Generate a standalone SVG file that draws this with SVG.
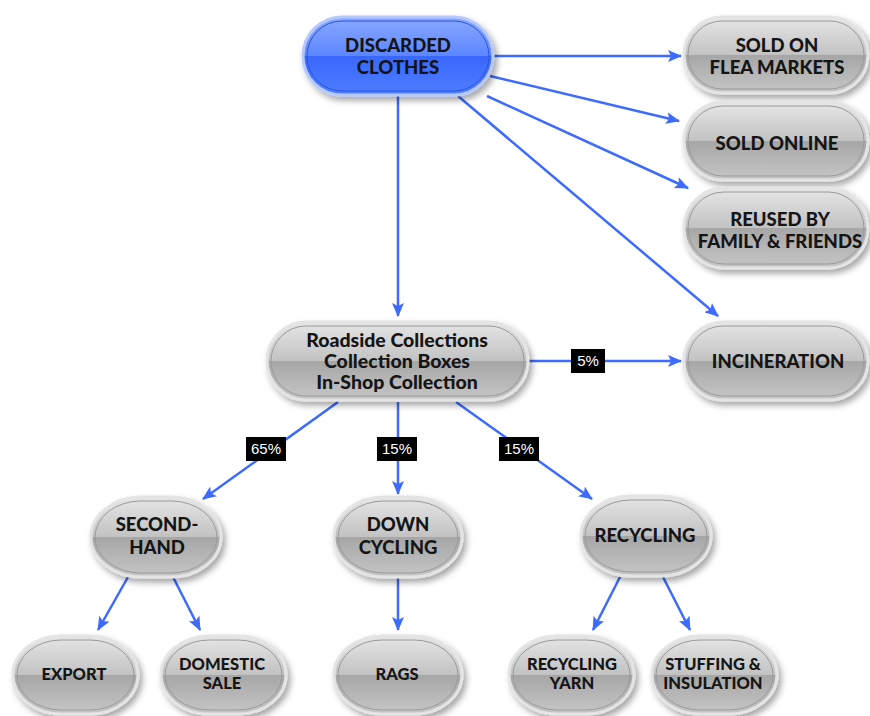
<svg xmlns="http://www.w3.org/2000/svg" width="870" height="716" viewBox="0 0 870 716">
<defs>
<linearGradient id="gGray" x1="0" y1="0" x2="0" y2="1">
<stop offset="0" stop-color="#e6e6e6"/>
<stop offset="0.5" stop-color="#c2c2c2"/>
<stop offset="0.5" stop-color="#a6a6a6"/>
<stop offset="1" stop-color="#c6c6c6"/>
</linearGradient>
<linearGradient id="gBlue" x1="0" y1="0" x2="0" y2="1">
<stop offset="0" stop-color="#88a8ff"/>
<stop offset="0.5" stop-color="#5c86ff"/>
<stop offset="0.5" stop-color="#3868fb"/>
<stop offset="1" stop-color="#4f7dff"/>
</linearGradient>
<filter id="sh" x="-20%" y="-20%" width="150%" height="160%">
<feDropShadow dx="3" dy="4" stdDeviation="3" flood-color="#000" flood-opacity="0.35"/>
</filter>
<marker id="ah" viewBox="0 0 14 12" refX="13" refY="6" markerWidth="14" markerHeight="12" markerUnits="userSpaceOnUse" orient="auto">
<path d="M0,0 L14,6 L0,12 L3,6 Z" fill="#3d6bff"/>
</marker>
</defs>
<style>
.n{fill:url(#gGray);stroke:#e4e4e4;stroke-width:3;filter:url(#sh)}
.ni{fill:none;stroke:#9a9a9a;stroke-width:1}
.b{fill:url(#gBlue);stroke:#b6c9ff;stroke-width:3;filter:url(#sh)}
.bi{fill:none;stroke:#2c55d8;stroke-width:1}
.t{font-family:Lato,"Open Sans","Liberation Sans",sans-serif;font-weight:900;font-size:18.5px;fill:#151515;text-anchor:middle}
.r{font-size:19.5px}
.c path{fill:none;stroke:#3d6bff;stroke-width:2.5;marker-end:url(#ah)}
.lb rect{fill:#000}
.lb text{font-family:"Liberation Sans",Arial,sans-serif;font-size:15px;fill:#fff;text-anchor:middle}
</style>

<g id="connectors" class="c">
<path d="M493,56 L681,56"/>
<path d="M490,76 L679,121"/>
<path d="M487,96 L688,188"/>
<path d="M458,96 L718,316"/>
<path d="M398,96 L398,316"/>
<path d="M528,361 L681,361"/>
<path d="M338,402 L203,499"/>
<path d="M398,402 L398,494"/>
<path d="M456,402 L592,499"/>
<path d="M128,577 L98,630"/>
<path d="M173,577 L200,630"/>
<path d="M398,577 L398,630"/>
<path d="M620,577 L593,630"/>
<path d="M663,577 L690,630"/>
</g>

<g id="labels" class="lb">
<rect x="571" y="349" width="34" height="24"/><text x="588" y="366">5%</text>
<rect x="246" y="437" width="40" height="24"/><text x="266" y="454">65%</text>
<rect x="377" y="437" width="40" height="24"/><text x="397" y="454">15%</text>
<rect x="499" y="437" width="40" height="24"/><text x="519" y="454">15%</text>
</g>

<g id="discarded">
<rect class="b" x="303" y="17" width="190" height="78" rx="39"/>
<rect class="bi" x="307" y="21" width="182" height="70" rx="35"/>
<text class="t" x="398" y="52">DISCARDED</text>
<text class="t" x="398" y="74">CLOTHES</text>
</g>

<g id="flea">
<rect class="n" x="684" y="17" width="184" height="76" rx="38"/>
<rect class="ni" x="688" y="21" width="176" height="68" rx="34"/>
<text class="t" x="777" y="52">SOLD ON</text>
<text class="t" x="777" y="74">FLEA MARKETS</text>
</g>

<g id="online">
<rect class="n" x="684" y="102" width="184" height="78" rx="39"/>
<rect class="ni" x="688" y="106" width="176" height="70" rx="35"/>
<text class="t" x="777" y="150">SOLD ONLINE</text>
</g>

<g id="reused">
<rect class="n" x="684" y="188" width="184" height="80" rx="40"/>
<rect class="ni" x="688" y="192" width="176" height="72" rx="36"/>
<text class="t" x="780" y="226">REUSED BY</text>
<text class="t" x="780" y="248">FAMILY &amp; FRIENDS</text>
</g>

<g id="incineration">
<rect class="n" x="684" y="322" width="184" height="78" rx="39"/>
<rect class="ni" x="688" y="326" width="176" height="70" rx="35"/>
<text class="t" x="778" y="368">INCINERATION</text>
</g>

<g id="roadside">
<rect class="n" x="267" y="322" width="261" height="78" rx="39"/>
<rect class="ni" x="271" y="326" width="253" height="70" rx="35"/>
<text class="t r" x="397" y="347">Roadside Collections</text>
<text class="t r" x="397" y="368">Collection Boxes</text>
<text class="t r" x="397" y="389">In-Shop Collection</text>
</g>

<g id="secondhand">
<rect class="n" x="91" y="497" width="130" height="80" rx="50" ry="40"/>
<rect class="ni" x="95" y="501" width="122" height="72" rx="46" ry="36"/>
<text class="t" x="157" y="531">SECOND-</text>
<text class="t" x="157" y="554">HAND</text>
</g>

<g id="downcycling">
<rect class="n" x="334" y="497" width="128" height="80" rx="50" ry="40"/>
<rect class="ni" x="338" y="501" width="120" height="72" rx="46" ry="36"/>
<text class="t" x="398" y="531">DOWN</text>
<text class="t" x="398" y="554">CYCLING</text>
</g>

<g id="recycling">
<rect class="n" x="581" y="496" width="130" height="80" rx="50" ry="40"/>
<rect class="ni" x="585" y="500" width="122" height="72" rx="46" ry="36"/>
<text class="t" x="645" y="542">RECYCLING</text>
</g>

<g id="export">
<rect class="n" x="13" y="636" width="125" height="78" rx="48" ry="39"/>
<rect class="ni" x="17" y="640" width="117" height="70" rx="44" ry="35"/>
<text class="t" x="74" y="680" style="font-size:16.5px">EXPORT</text>
</g>

<g id="domestic">
<rect class="n" x="161" y="636" width="125" height="78" rx="48" ry="39"/>
<rect class="ni" x="165" y="640" width="117" height="70" rx="44" ry="35"/>
<text class="t" x="222" y="670" style="font-size:16.5px">DOMESTIC</text>
<text class="t" x="222" y="689" style="font-size:16.5px">SALE</text>
</g>

<g id="rags">
<rect class="n" x="334" y="636" width="128" height="78" rx="48" ry="39"/>
<rect class="ni" x="338" y="640" width="120" height="70" rx="44" ry="35"/>
<text class="t" x="397" y="680" style="font-size:16.5px">RAGS</text>
</g>

<g id="yarn">
<rect class="n" x="509" y="636" width="125" height="78" rx="48" ry="39"/>
<rect class="ni" x="513" y="640" width="117" height="70" rx="44" ry="35"/>
<text class="t" x="572" y="670" style="font-size:16.5px">RECYCLING</text>
<text class="t" x="572" y="689" style="font-size:16.5px">YARN</text>
</g>

<g id="stuffing">
<rect class="n" x="652" y="636" width="125" height="78" rx="48" ry="39"/>
<rect class="ni" x="656" y="640" width="117" height="70" rx="44" ry="35"/>
<text class="t" x="713" y="670" style="font-size:16.5px">STUFFING &amp;</text>
<text class="t" x="713" y="689" style="font-size:16.5px">INSULATION</text>
</g>
</svg>
